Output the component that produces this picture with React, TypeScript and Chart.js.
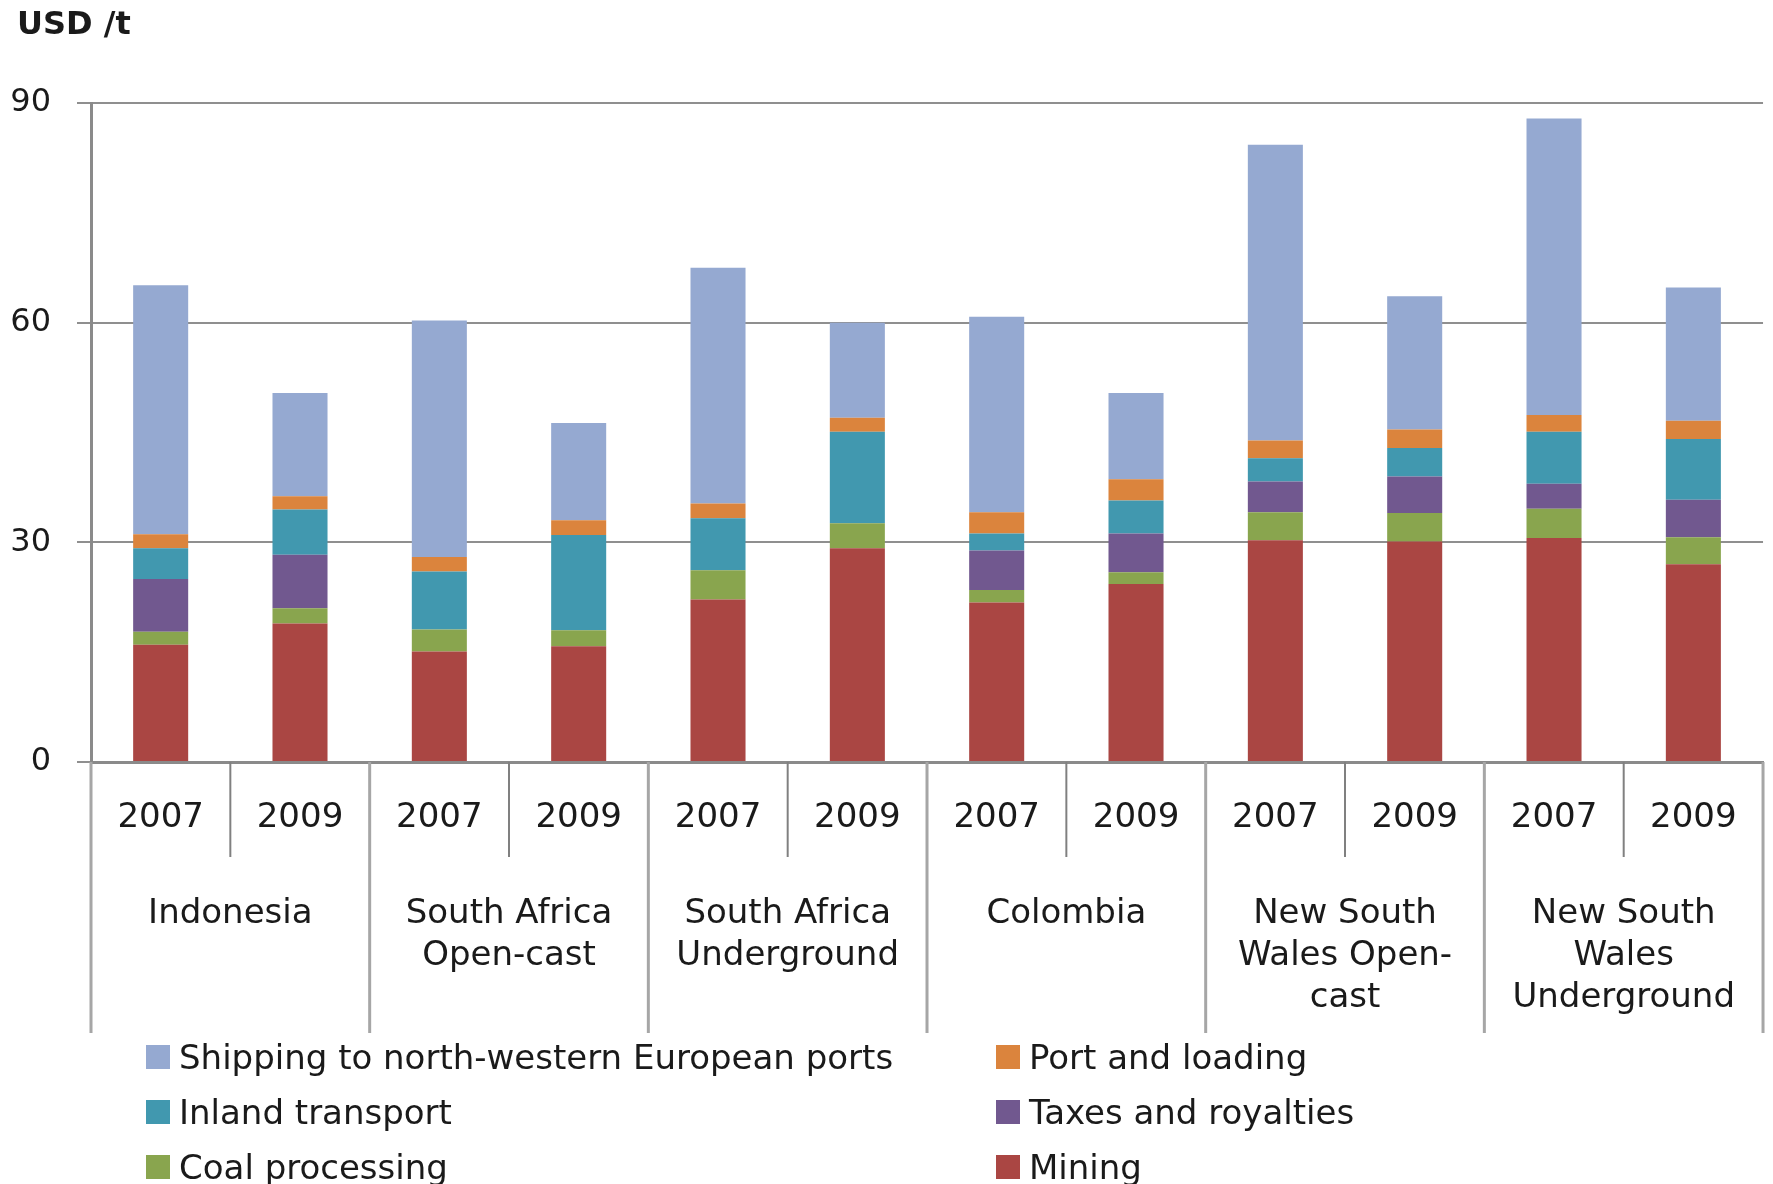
import React, { useEffect, useRef } from 'react';
import { Chart, registerables } from 'chart.js';

Chart.register(...registerables);

const categories = ['2007', '2009', '2007', '2009', '2007', '2009', '2007', '2009', '2007', '2009', '2007', '2009'];
const groups: string[][] = [
  ['Indonesia'],
  ['South Africa', 'Open-cast'],
  ['South Africa', 'Underground'],
  ['Colombia'],
  ['New South', 'Wales Open-', 'cast'],
  ['New South', 'Wales', 'Underground'],
];
const yTicks = [0, 30, 60, 90];

const mining = [16.0, 18.9, 15.1, 15.8, 22.2, 29.2, 21.8, 24.3, 30.3, 30.1, 30.6, 27.0];
const coalProcessing = [1.8, 2.1, 3.0, 2.2, 4.0, 3.4, 1.7, 1.6, 3.8, 3.9, 4.0, 3.7];
const taxesRoyalties = [7.2, 7.3, 0, 0, 0, 0, 5.4, 5.3, 4.2, 5.0, 3.4, 5.1];
const inlandTransport = [4.2, 6.2, 7.9, 13.0, 7.1, 12.5, 2.3, 4.5, 3.2, 3.9, 7.1, 8.3];
const portLoading = [1.9, 1.8, 2.0, 2.0, 2.0, 1.9, 2.9, 2.9, 2.4, 2.5, 2.3, 2.5];
const shipping = [34.0, 14.1, 32.3, 13.3, 32.2, 13.0, 26.7, 11.8, 40.4, 18.2, 40.5, 18.2];

const COLORS = {
  shipping: '#95A9D1',
  port: '#DB843D',
  inland: '#4198AF',
  taxes: '#71588F',
  coal: '#89A54E',
  mining: '#AA4643',
};

const legendItems = [
  { label: 'Shipping to north-western European ports', color: COLORS.shipping, col: 0, row: 0 },
  { label: 'Port and loading', color: COLORS.port, col: 1, row: 0 },
  { label: 'Inland transport', color: COLORS.inland, col: 0, row: 1 },
  { label: 'Taxes and royalties', color: COLORS.taxes, col: 1, row: 1 },
  { label: 'Coal processing', color: COLORS.coal, col: 0, row: 2 },
  { label: 'Mining', color: COLORS.mining, col: 1, row: 2 },
];

const FONT = '"DejaVu Sans", sans-serif';
const TEXT = '#1a1a1a';
const FS = 34;

const groupPlugin = {
  id: 'groupLabels',
  afterDraw(chart: any) {
    const { ctx, chartArea } = chart;
    const x = chart.scales.x;
    const n = categories.length;
    const boundary = (i: number) =>
      i === 0 ? chartArea.left : i === n ? chartArea.right : (x.getPixelForValue(i - 1) + x.getPixelForValue(i)) / 2;
    ctx.save();
    for (let i = 0; i <= n; i++) {
      const bx = boundary(i);
      const isGroup = i % 2 === 0;
      ctx.beginPath();
      ctx.strokeStyle = isGroup ? '#a6a6a6' : '#808080';
      ctx.lineWidth = isGroup ? 3 : 2;
      ctx.moveTo(bx, chartArea.bottom);
      ctx.lineTo(bx, chartArea.bottom + (isGroup ? 271 : 95));
      ctx.stroke();
    }
    ctx.font = `${FS}px ${FONT}`;
    ctx.fillStyle = TEXT;
    ctx.textAlign = 'center';
    ctx.textBaseline = 'middle';
    groups.forEach((lines, g) => {
      const cx = (boundary(2 * g) + boundary(2 * g + 2)) / 2;
      lines.forEach((t, k) => ctx.fillText(t, cx, chartArea.bottom + 152 + k * 42));
    });
    ctx.restore();
  },
};

export default function App() {
  const ref = useRef<HTMLCanvasElement | null>(null);

  useEffect(() => {
    document.body.style.margin = '0';
    const canvas = ref.current;
    if (!canvas) return;
    const mk = (label: string, data: number[], color: string) => ({
      label,
      data,
      backgroundColor: color,
      borderWidth: 0,
      barPercentage: 0.395,
      categoryPercentage: 1.0,
    });
    const chart = new Chart(canvas, {
      type: 'bar',
      data: {
        labels: categories,
        datasets: [
          mk('Mining', mining, COLORS.mining),
          mk('Coal processing', coalProcessing, COLORS.coal),
          mk('Taxes and royalties', taxesRoyalties, COLORS.taxes),
          mk('Inland transport', inlandTransport, COLORS.inland),
          mk('Port and loading', portLoading, COLORS.port),
          mk('Shipping to north-western European ports', shipping, COLORS.shipping),
        ],
      },
      options: {
        responsive: false,
        animation: false,
        devicePixelRatio: 1,
        layout: { padding: { left: 0, right: 9, top: 103, bottom: 0 } },
        plugins: {
          legend: { display: false },
          tooltip: { enabled: false },
          title: { display: false },
        },
        scales: {
          x: {
            stacked: true,
            grid: { display: false, drawTicks: false },
            border: { display: true, color: '#8a8a8a', width: 3 },
            ticks: {
              font: { family: FONT, size: FS },
              color: TEXT,
              padding: 36,
              maxRotation: 0,
              autoSkip: false,
            },
            afterFit: (s: any) => {
              s.height = 422;
            },
          },
          y: {
            stacked: true,
            min: yTicks[0],
            max: yTicks[yTicks.length - 1],
            afterBuildTicks: (s: any) => {
              s.ticks = yTicks.map((v) => ({ value: v }));
            },
            ticks: {
              font: { family: FONT, size: 32 },
              color: TEXT,
              padding: 26,
            },
            grid: { color: '#8f8f8f', lineWidth: 2, tickLength: 14 },
            border: { color: '#8a8a8a', width: 3 },
            afterFit: (s: any) => {
              s.width = 91;
            },
          },
        },
      },
      plugins: [groupPlugin],
    } as any);
    return () => chart.destroy();
  }, []);

  const rowCenters = [1057, 1112, 1167];
  const colTextLeft = [179, 1029];

  return (
    <div style={{ position: 'absolute', left: 0, top: 0, width: 1773, height: 1184, background: '#fff', overflow: 'hidden' }}>
      <canvas ref={ref} width={1773} height={1184} style={{ position: 'absolute', left: 0, top: 0, width: 1773, height: 1184 }} />
      <div
        style={{
          position: 'absolute',
          left: 17,
          top: 4,
          font: `bold 32px ${FONT}`,
          lineHeight: '38px',
          color: TEXT,
        }}
      >
        USD /t
      </div>
      {legendItems.map((it) => (
        <div
          key={it.label}
          style={{
            position: 'absolute',
            left: colTextLeft[it.col] - 33,
            top: rowCenters[it.row] - 20,
            height: 40,
            display: 'flex',
            alignItems: 'center',
            font: `${FS}px ${FONT}`,
            color: TEXT,
            whiteSpace: 'nowrap',
          }}
        >
          <span style={{ display: 'inline-block', width: 24, height: 24, background: it.color, marginRight: 9 }} />
          <span>{it.label}</span>
        </div>
      ))}
    </div>
  );
}
